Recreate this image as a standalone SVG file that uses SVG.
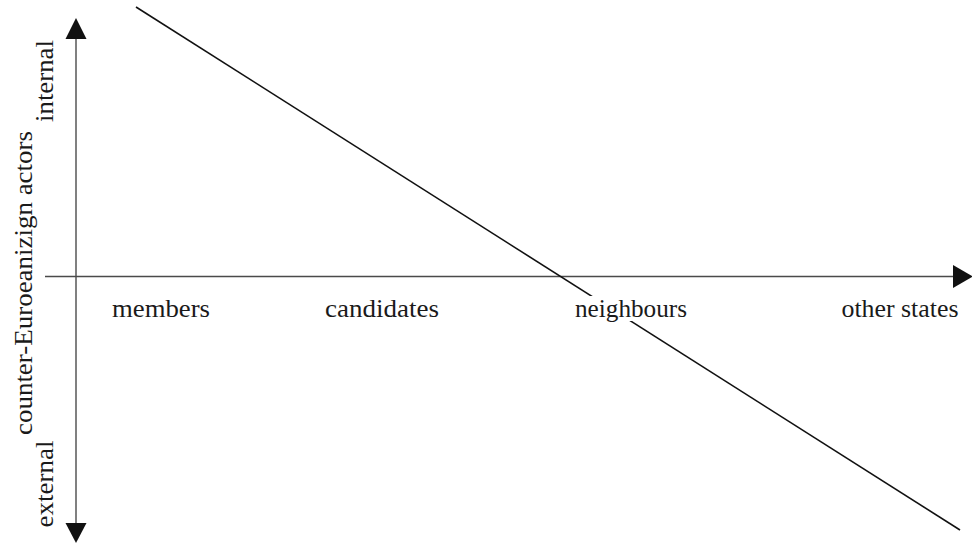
<svg xmlns="http://www.w3.org/2000/svg" width="972" height="545" viewBox="0 0 972 545">
  <style>
    .lbl { font-family: "Liberation Serif", "Times New Roman", serif; font-size: 25px; fill: #1a1a1a; }
    .axis { stroke: #4a4a4a; stroke-width: 1.4; fill: none; }
    .trend { stroke: #111; stroke-width: 1.6; fill: none; }
    .head { fill: #111; stroke: none; }
    .bg { fill: #fff; stroke: none; }
  </style>
  <rect x="0" y="0" width="972" height="545" fill="#fff"/>
  <g id="connectors">
    <line class="axis" x1="76" y1="36" x2="76" y2="527"/>
    <polygon class="head" points="76,18 65.5,39 86.5,39"/>
    <polygon class="head" points="76,543 65.5,523 86.5,523"/>
    <line class="axis" x1="45" y1="276.5" x2="956" y2="276.5"/>
    <polygon class="head" points="973,276.5 953,265 953,288"/>
    <line class="trend" x1="136" y1="7" x2="960" y2="530"/>
  </g>
  <g id="label-members">
    <text class="lbl" x="161" y="317" text-anchor="middle" textLength="98" lengthAdjust="spacingAndGlyphs">members</text>
  </g>
  <g id="label-candidates">
    <text class="lbl" x="382" y="317" text-anchor="middle" textLength="114" lengthAdjust="spacingAndGlyphs">candidates</text>
  </g>
  <g id="label-neighbours">
    <rect class="bg" x="569" y="296" width="124" height="25"/>
    <text class="lbl" x="631" y="317" text-anchor="middle" textLength="112" lengthAdjust="spacingAndGlyphs">neighbours</text>
  </g>
  <g id="label-other-states">
    <text class="lbl" x="900" y="317" text-anchor="middle" textLength="117" lengthAdjust="spacingAndGlyphs">other states</text>
  </g>
  <g id="label-internal">
    <text class="lbl" transform="translate(53,81) rotate(-90)" x="0" y="0" text-anchor="middle" textLength="82" lengthAdjust="spacingAndGlyphs">internal</text>
  </g>
  <g id="label-external">
    <text class="lbl" transform="translate(53,484) rotate(-90)" x="0" y="0" text-anchor="middle" textLength="87" lengthAdjust="spacingAndGlyphs">external</text>
  </g>
  <g id="label-axis-title">
    <text class="lbl" transform="translate(32,283) rotate(-90)" x="0" y="0" text-anchor="middle" textLength="304" lengthAdjust="spacingAndGlyphs">counter-Euroeanizign actors</text>
  </g>
</svg>
